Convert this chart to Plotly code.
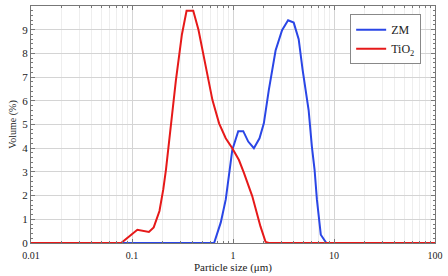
import plotly.graph_objects as go

# ZM particle size distribution (size in µm, volume %)
zm_size = [0.01, 0.65, 0.757, 0.848, 0.948, 0.984, 1.127, 1.263, 1.415, 1.61, 1.83, 2.02,
           2.26, 2.64, 3.06, 3.51, 3.99, 4.47, 4.89, 5.2, 5.61, 6.04, 6.42, 6.77, 7.4, 8.4, 100]
zm_vol = [0, 0, 0.87, 1.84, 3.4, 3.93, 4.72, 4.72, 4.28, 4.0, 4.42, 5.05,
          6.44, 8.12, 8.98, 9.4, 9.3, 8.6, 7.3, 6.44, 5.6, 4.07, 3.1, 1.84, 0.35, 0, 0]

# TiO2 particle size distribution
tio2_size = [0.01, 0.078, 0.113, 0.147, 0.164, 0.187, 0.204, 0.217, 0.272, 0.312, 0.347, 0.404,
             0.455, 0.499, 0.558, 0.626, 0.728, 0.847, 0.984, 1.145, 1.283, 1.55, 1.87, 2.1, 2.26, 100]
tio2_vol = [0, 0, 0.56, 0.47, 0.66, 1.35, 2.26, 3.1, 6.86, 8.8, 9.8, 9.8,
            9.0, 8.12, 7.2, 6.03, 5.05, 4.42, 4.0, 3.5, 2.96, 1.98, 0.7, 0.05, 0, 0]

x_ticks = [0.01, 0.1, 1, 10, 100]
x_tick_text = ["0.01", "0.1", "1", "10", "100"]

FONT = "Liberation Serif"

fig = go.Figure()
fig.add_trace(go.Scatter(x=zm_size, y=zm_vol, mode="lines", name="ZM",
                         line=dict(color="#2a46e6", width=2)))
fig.add_trace(go.Scatter(x=tio2_size, y=tio2_vol, mode="lines", name="TiO<sub>2</sub>",
                         line=dict(color="#e61919", width=2)))

fig.update_layout(
    width=448, height=276,
    margin=dict(l=31, r=11, t=5, b=32),
    paper_bgcolor="white", plot_bgcolor="white",
    font=dict(family=FONT, size=11, color="#222"),
    legend=dict(x=0.79, y=0.965, xanchor="left", yanchor="top",
                bordercolor="#888", borderwidth=1, bgcolor="white",
                font=dict(family=FONT, size=12, color="#222"),
                itemwidth=30, tracegroupgap=0),
    xaxis=dict(type="log", range=[-2, 2], tickvals=x_ticks, ticktext=x_tick_text,
               showline=True, linecolor="#777", linewidth=1, mirror="ticks",
               ticks="inside", ticklen=4, tickcolor="#777",
               showgrid=True, gridcolor="#d4d4d4", gridwidth=1,
               minor=dict(dtick="D1", ticks="inside", ticklen=2, tickcolor="#777",
                          showgrid=True, gridcolor="#eeeeee"),
               zeroline=False, ticklabelstandoff=3,
               title=dict(text="Particle size (μm)", font=dict(family=FONT, size=11), standoff=2),
               tickfont=dict(family=FONT, size=10)),
    yaxis=dict(range=[0, 10], dtick=1,
               showline=True, linecolor="#777", linewidth=1, mirror="ticks",
               ticks="inside", ticklen=4, tickcolor="#777",
               showgrid=True, gridcolor="#d4d4d4", gridwidth=1,
               minor=dict(dtick=0.2, ticks="inside", ticklen=2, tickcolor="#777",
                          showgrid=False),
               zeroline=False,
               title=dict(text="Volume (%)", font=dict(family=FONT, size=10), standoff=3),
               tickfont=dict(family=FONT, size=11)),
)

fig.write_html("out.html")
